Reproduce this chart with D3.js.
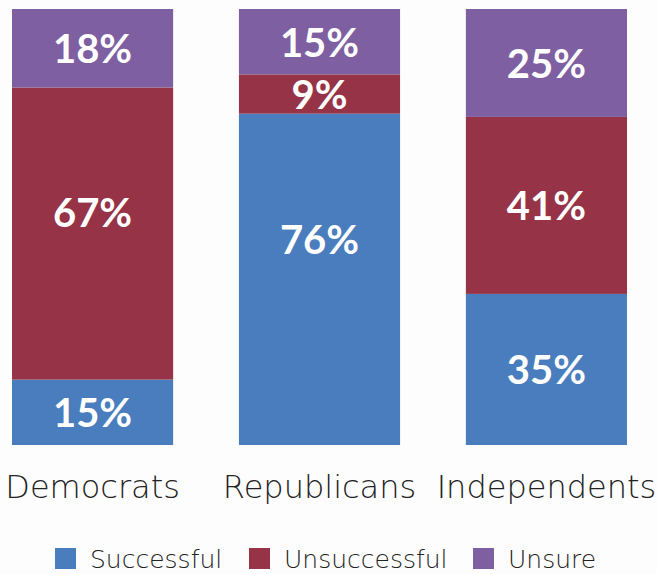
<!DOCTYPE html>
<html>
<head>
<meta charset="utf-8">
<script src="https://cdn.jsdelivr.net/npm/d3@7"></script>
<style>
  body { margin: 0; background: #fdfdfd; }
  .pct { font-family: Lato, sans-serif; font-weight: 700; fill: #fff; }
  .cat { font-family: "DejaVu Sans", sans-serif; font-weight: 200; fill: #222; }
  .leg { font-family: "DejaVu Sans", sans-serif; font-weight: 200; fill: #222; }
</style>
</head>
<body>
<div id="chart"></div>
<script>
const categories = ['Democrats', 'Republicans', 'Independents'];
const seriesNames = ['Successful', 'Unsuccessful', 'Unsure'];
const successful = [15, 76, 35];
const unsuccessful = [67, 9, 41];
const unsure = [18, 15, 25];

const colors = ['#4a7dbd', '#963346', '#7e5fa1'];

const width = 657;
const height = 574;
const plot = { left: 12, right: 627, top: 9, bottom: 445 };

const rows = categories.map((c, i) => ({
  category: c,
  Successful: successful[i],
  Unsuccessful: unsuccessful[i],
  Unsure: unsure[i],
}));

// each bar is stretched to the full height (shares don't always add to 100)
const stack = d3.stack().keys(seriesNames).offset(d3.stackOffsetExpand)(rows);

const x = d3
  .scaleBand()
  .domain(categories)
  .range([plot.left, plot.right])
  .paddingInner(0.29)
  .paddingOuter(0);

const y = d3.scaleLinear().domain([0, 1]).range([plot.bottom, plot.top]);

const svg = d3
  .select('#chart')
  .append('svg')
  .attr('width', width)
  .attr('height', height);

const layers = svg
  .selectAll('.layer')
  .data(stack)
  .join('g')
  .attr('class', 'layer')
  .attr('fill', (d, i) => colors[i]);

layers
  .selectAll('rect')
  .data(d => d)
  .join('rect')
  .attr('x', d => x(d.data.category))
  .attr('width', x.bandwidth())
  .attr('y', d => y(d[1]))
  .attr('height', d => y(d[0]) - y(d[1]));

// labels sit in the middle of a segment, but not too far below its top
layers
  .selectAll('text')
  .data(d => d.map(v => ({ v, key: d.key })))
  .join('text')
  .attr('class', 'pct')
  .attr('font-size', 40)
  .attr('text-anchor', 'middle')
  .attr('dominant-baseline', 'central')
  .attr('x', d => x(d.v.data.category) + x.bandwidth() / 2)
  .attr('y', d => Math.min((y(d.v[0]) + y(d.v[1])) / 2, y(d.v[1]) + 125))
  .text(d => `${d.v.data[d.key]}%`);

// category axis, no line or ticks
const xAxis = svg
  .append('g')
  .attr('transform', `translate(0, ${plot.bottom})`)
  .call(d3.axisBottom(x).tickSize(0).tickPadding(0));
xAxis.select('.domain').remove();
xAxis
  .selectAll('text')
  .attr('class', 'cat')
  .attr('font-size', 32)
  .attr('dy', null)
  .attr('y', 53);

// legend
const legendX = [55, 249, 473];
const legend = svg
  .selectAll('.legend')
  .data(seriesNames)
  .join('g')
  .attr('class', 'legend')
  .attr('transform', (d, i) => `translate(${legendX[i]}, 548)`);

legend
  .append('rect')
  .attr('width', 21)
  .attr('height', 21)
  .attr('fill', (d, i) => colors[i]);

legend
  .append('text')
  .attr('class', 'leg')
  .attr('font-size', 25)
  .attr('x', 35)
  .attr('y', 20)
  .text(d => d);
</script>
</body>
</html>
